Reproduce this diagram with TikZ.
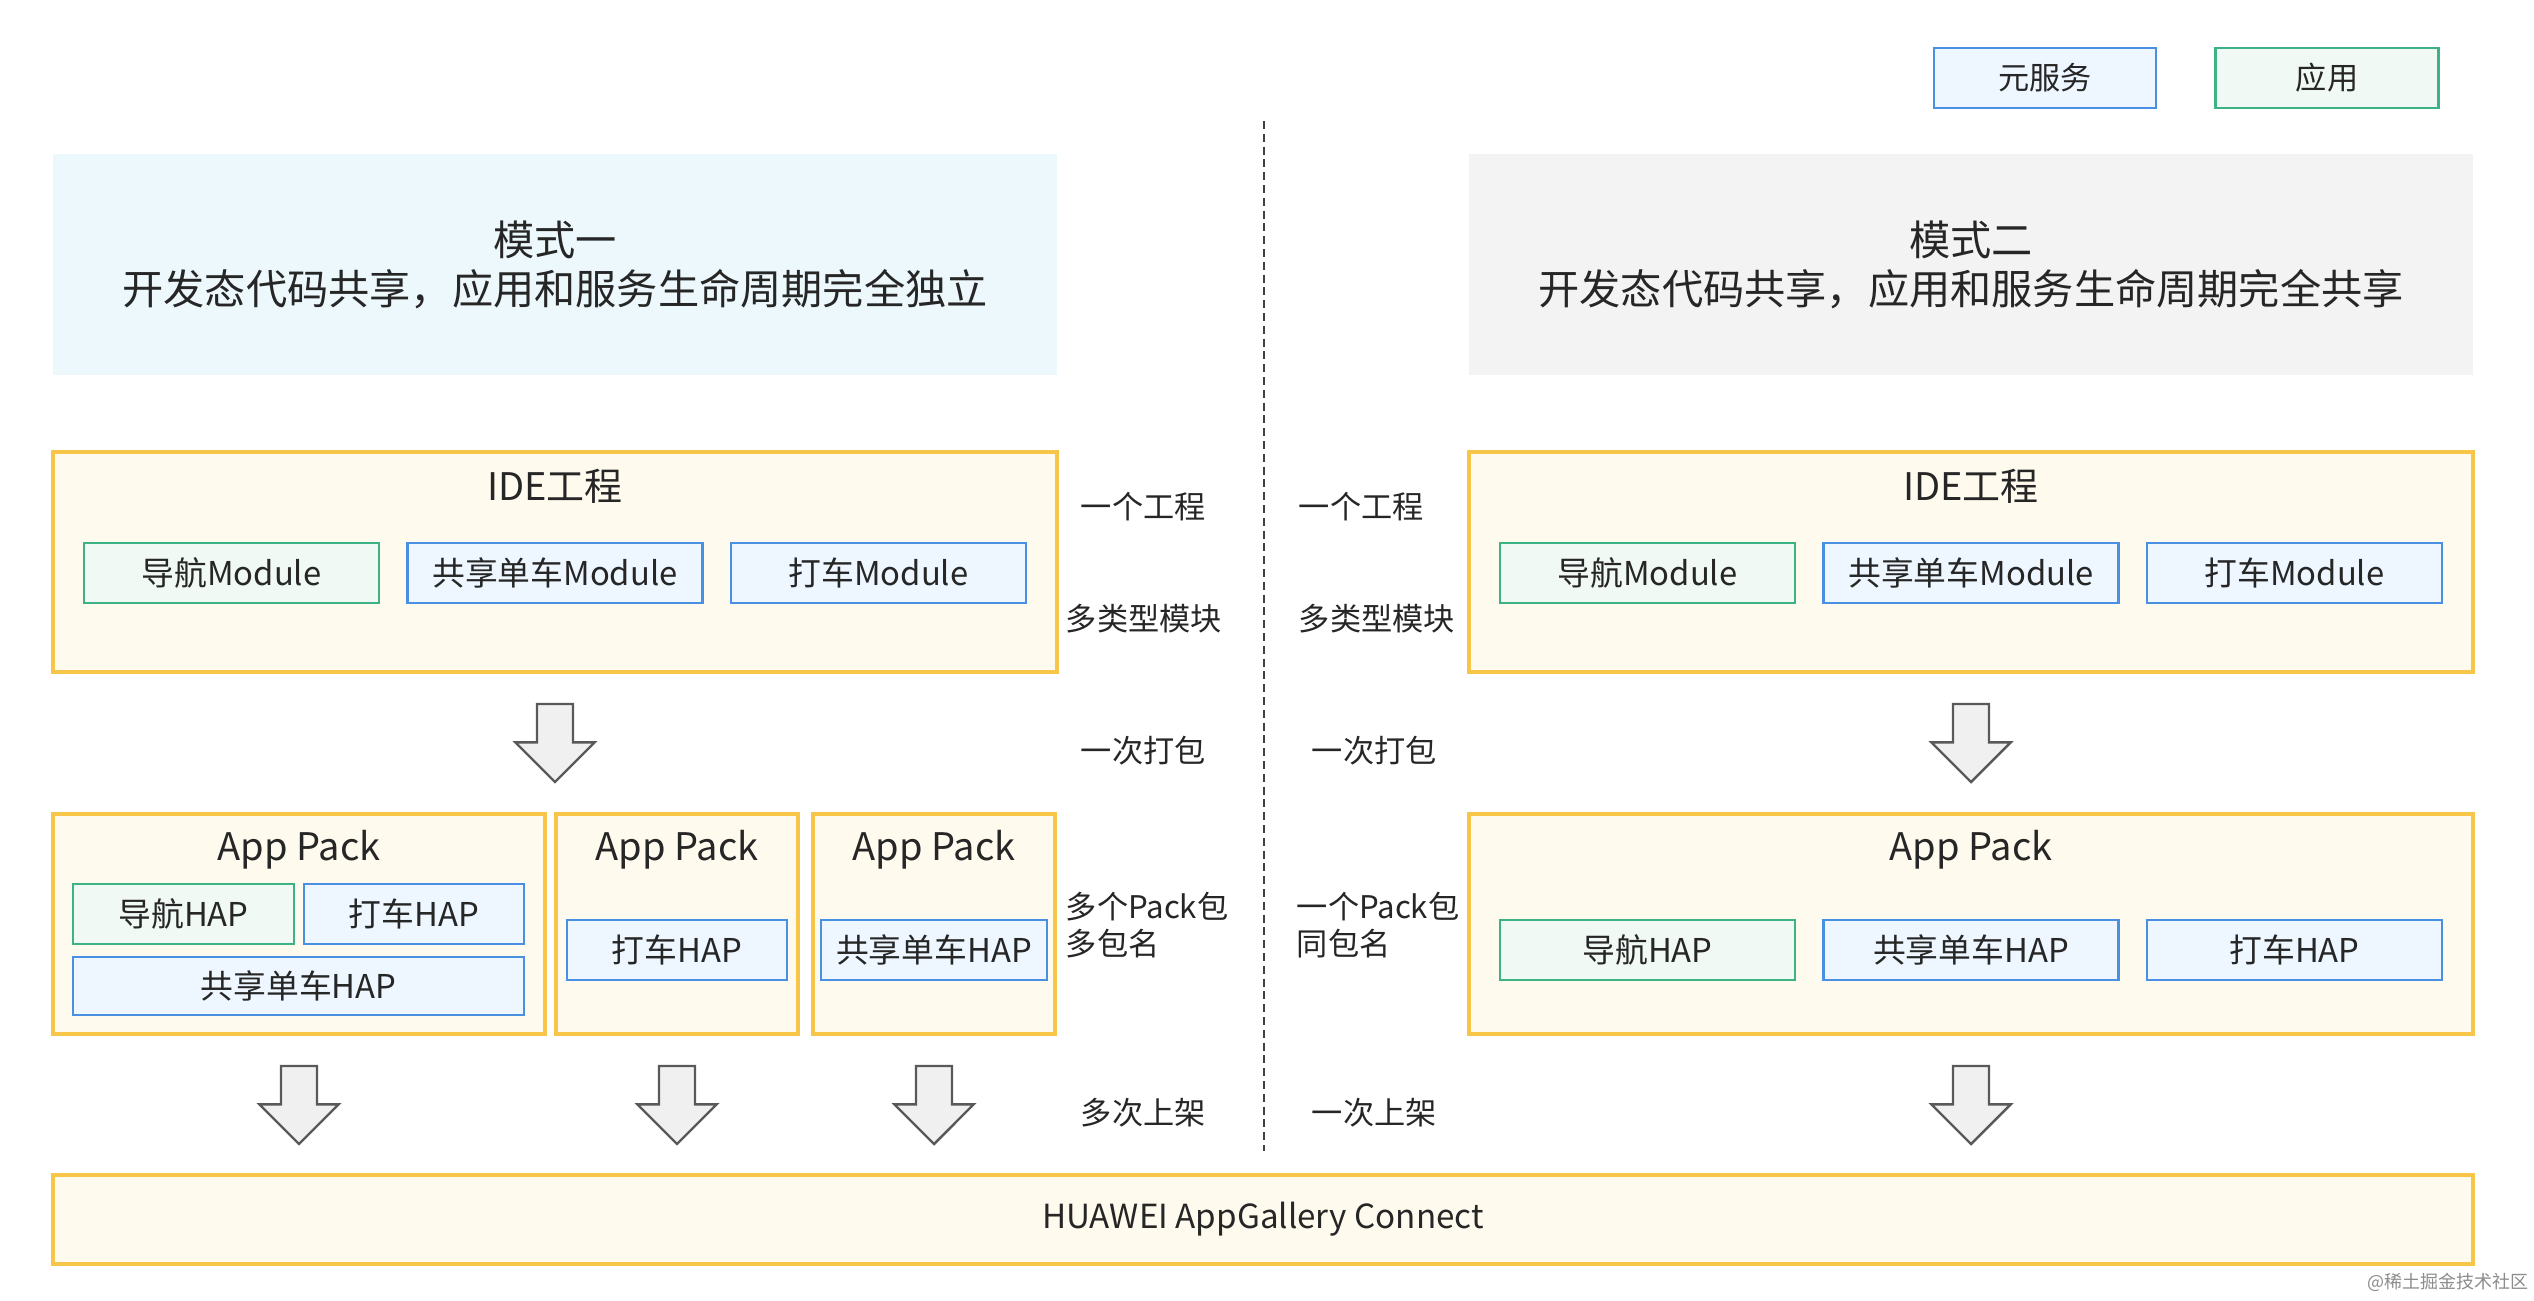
\documentclass[tikz,border=0pt]{standalone}
\usepackage{fontspec}
\setmainfont{Noto Sans CJK SC}
\usetikzlibrary{shapes.arrows}

\definecolor{packline}{HTML}{F7C548}
\definecolor{packfill}{HTML}{FFFAEE}
\definecolor{svcline}{HTML}{4A90E2}
\definecolor{svcfill}{HTML}{EEF7FF}
\definecolor{appline}{HTML}{3DB385}
\definecolor{appfill}{HTML}{F1F9F4}
\definecolor{modeonefill}{HTML}{ECF8FC}
\definecolor{modetwofill}{HTML}{F3F3F3}
\definecolor{txt}{HTML}{262626}

\tikzset{
	packbox/.style={draw=packline, fill=packfill, line width=0.8pt, minimum height=55pt, inner sep=0pt},
	svcbox/.style={draw=svcline, fill=svcfill, line width=0.7pt, minimum height=15pt, inner sep=0pt, font=\fontsize{8.2}{10}\selectfont},
	appbox/.style={svcbox, draw=appline, fill=appfill},
	modebox/.style={minimum width=251pt, minimum height=55.25pt, align=center, font=\fontsize{10.3}{12.3}\selectfont},
	titletext/.style={inner sep=0pt, font=\fontsize{9.5}{11}\selectfont},
	hinttext/.style={anchor=west, align=left, inner sep=0pt, font=\fontsize{7.8}{9.4}\selectfont},
	downarrow/.style={single arrow, rotate=-90, draw=black!65, fill=black!6, line width=0.6pt, minimum height=19.5pt, minimum width=19.5pt, single arrow head extend=5.4pt, single arrow head indent=0pt, inner xsep=0pt, inner ysep=4.2pt},
}

\begin{document}
\begin{tikzpicture}[x=0.25pt, y=-0.25pt, text=txt]
	
	\useasboundingbox (0,0) rectangle (2534,1300);
	\fill[white] (0,0) rectangle (2534,1300);
	
	% legend
	\node[svcbox, minimum width=55.5pt, font=\fontsize{7.8}{9}\selectfont] (legsvc) at (2045,78) {元服务};
	\node[appbox, minimum width=55.75pt, font=\fontsize{7.8}{9}\selectfont] (legapp) at (2327,78) {应用};
	
	% divider
	\coordinate (divtop) at (1264,121);
	\coordinate (divbot) at (1264,1151);
	\draw[black!75, line width=0.7pt, dash pattern=on 2pt off 1.2pt] (divtop) -- (divbot);
	
	\node[modebox, fill=modeonefill] (modeone) at (555,264.5) {模式一\\开发态代码共享，应用和服务生命周期完全独立};
	\node[modebox, fill=modetwofill] (modetwo) at (1971,264.5) {模式二\\开发态代码共享，应用和服务生命周期完全共享};
	
	% IDE projects, both modes
	\foreach \s/\cx in {one/555, two/1971}{
		\node[packbox, minimum width=251pt] (ide\s) at (\cx,562) {};
		\node[titletext] (idet\s) at (\cx,486) {IDE工程};
		\node[appbox, minimum width=73.75pt] (navmod\s) at (\cx-323.5,573) {导航Module};
		\node[svcbox, minimum width=73.75pt] (bikemod\s) at (\cx,573) {共享单车Module};
		\node[svcbox, minimum width=73.75pt] (taximod\s) at (\cx+323.5,573) {打车Module};
		\node[downarrow] (build\s) at (\cx,734) {};
	}
	
	% mode one: three packs
	\node[packbox, minimum width=123pt] (packa) at (299,924) {};
	\node[titletext] (packat) at (299,850) {App Pack};
	\node[appbox, minimum width=55.25pt] (navhapa) at (183.5,914) {导航HAP};
	\node[svcbox, minimum width=55pt] (taxihapa) at (414,914) {打车HAP};
	\node[svcbox, minimum width=112.75pt, minimum height=14.5pt] (bikehapa) at (298.5,986) {共享单车HAP};
	
	\node[packbox, minimum width=60.5pt] (packb) at (677,924) {};
	\node[titletext] (packbt) at (677,850) {App Pack};
	\node[svcbox, minimum width=55pt] (taxihapb) at (677,950) {打车HAP};
	
	\node[packbox, minimum width=60.5pt] (packc) at (934,924) {};
	\node[titletext] (packct) at (934,850) {App Pack};
	\node[svcbox, minimum width=56.5pt] (bikehapc) at (934,950) {共享单车HAP};
	
	% mode two: one pack
	\node[packbox, minimum width=251pt] (packd) at (1971,924) {};
	\node[titletext] (packdt) at (1971,850) {App Pack};
	\node[appbox, minimum width=73.75pt] (navhapd) at (1647.5,950) {导航HAP};
	\node[svcbox, minimum width=73.75pt] (bikehapd) at (1971,950) {共享单车HAP};
	\node[svcbox, minimum width=73.75pt] (taxihapd) at (2294.5,950) {打车HAP};
	
	\foreach \n/\cx in {a/299, b/677, c/934, d/1971}{
		\node[downarrow] (pub\n) at (\cx,1096) {};
	}
	
	\node[packbox, minimum width=605pt, minimum height=22.25pt, font=\fontsize{8.3}{10}\selectfont] (agc) at (1263,1219.5) {HUAWEI AppGallery Connect};
	
	% notes beside the divider
	\node[hinttext] (hintonea) at (1080,507) {一个工程};
	\node[hinttext] (hintoneb) at (1065,619) {多类型模块};
	\node[hinttext] (hintonec) at (1080,751) {一次打包};
	\node[hinttext] (hintoned) at (1065,925) {多个Pack包\\多包名};
	\node[hinttext] (hintonee) at (1080,1113) {多次上架};
	
	\node[hinttext] (hinttwoa) at (1298,507) {一个工程};
	\node[hinttext] (hinttwob) at (1298,619) {多类型模块};
	\node[hinttext] (hinttwoc) at (1311,751) {一次打包};
	\node[hinttext] (hinttwod) at (1296,925) {一个Pack包\\同包名};
	\node[hinttext] (hinttwoe) at (1311,1113) {一次上架};
	
	\node[anchor=east, inner sep=0pt, text=black!45, font=\fontsize{4.5}{5}\selectfont] (mark) at (2529,1282) {@稀土掘金技术社区};
	
\end{tikzpicture}
\end{document}
